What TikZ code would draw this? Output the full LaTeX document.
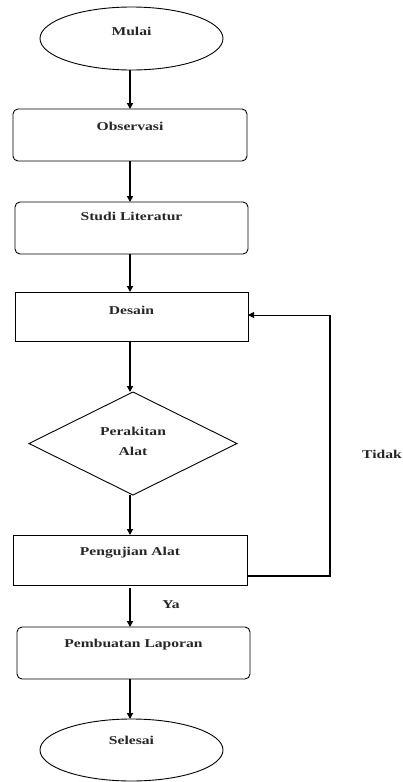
\documentclass[tikz,border=0pt]{standalone}
\usepackage{fontspec}
\newfontfamily\flowfont{Liberation Serif}[FakeStretch=1.3]
\usetikzlibrary{shapes.geometric,arrows.meta}
\begin{document}
\begin{tikzpicture}[x=1pt,y=1pt,
  every node/.style={inner sep=0pt, outer sep=0pt},
  txt/.style={anchor=mid, font=\flowfont\bfseries\fontsize{12}{14}\selectfont, text=black!85},
  term/.style={draw, line width=0.9pt, ellipse, minimum width=183pt, minimum height=63pt},
  rbox/.style={draw, line width=0.9pt, rounded corners=5pt, minimum height=52pt},
  sbox/.style={draw, line width=0.9pt, minimum height=49pt, minimum width=233pt},
  dec/.style={draw, line width=0.9pt, diamond, minimum width=208pt, minimum height=103pt},
  flow/.style={line width=1.8pt, -{Triangle[length=6pt,width=6pt]}},
  loopline/.style={line width=2pt}
]
\useasboundingbox (0,0) rectangle (403,-782);

% shapes
\node[term] (mulai) at (131.5,-38.5) {};
\node[txt] (mulaiT) at (131.5,-33) {Mulai};

\node[rbox, minimum width=234pt] (obs) at (130,-135) {};
\node[txt] (obsT) at (130,-128) {Observasi};

\node[rbox, minimum width=233pt] (studi) at (131.5,-228) {};
\node[txt] (studiT) at (131.5,-218) {Studi Literatur};

\node[sbox] (desain) at (131.5,-316.5) {};
\node[txt] (desainT) at (131.5,-312) {Desain};

\node[dec] (rakit) at (133,-443.5) {};
\node[txt] (rakitT1) at (133,-433) {Perakitan};
\node[txt] (rakitT2) at (133,-453) {Alat};

\node[sbox, minimum width=234pt, minimum height=50pt] (uji) at (130,-560) {};
\node[txt] (ujiT) at (130,-553) {Pengujian Alat};

\node[rbox, minimum width=233pt] (lapor) at (133.5,-653) {};
\node[txt] (laporT) at (133.5,-645) {Pembuatan Laporan};

\node[term, minimum height=62pt] (selesai) at (131.5,-750) {};
\node[txt] (selesaiT) at (131.5,-742) {Selesai};

\node[txt] (tidak) at (382,-456) {Tidak};
\node[txt] (ya) at (171,-606) {Ya};

% connectors
\draw[flow] (mulai.south -| 130,0) -- (obs.north -| 130,0);
\draw[flow] (obs.south -| 130,0) -- (studi.north -| 130,0);
\draw[flow] (studi.south -| 130,0) -- (desain.north -| 130,0);
\draw[flow] (desain.south -| 130,0) -- (rakit.north -| 130,0);
\draw[flow] (rakit.south -| 130,0) -- (uji.north -| 130,0);
\draw[flow] ([yshift=-3pt]uji.south -| 130,0) -- (lapor.north -| 130,0);
\draw[flow] (lapor.south -| 130,0) -- (selesai.north -| 130,0);

\coordinate (c1) at (330,-576);
\coordinate (c2) at (330,-315);
\draw[loopline] (uji.east |- c1) -- (c1) -- (c2);
\draw[line width=1pt, -{Triangle[length=6pt,width=6pt]}] (c2) -- (desain.east |- c2);
\end{tikzpicture}
\end{document}
